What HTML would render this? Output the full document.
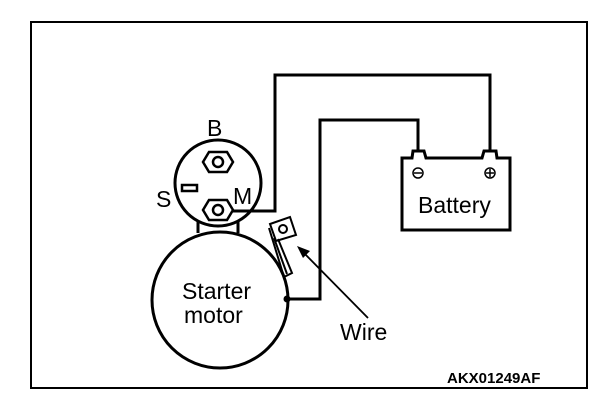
<!DOCTYPE html>
<html><head><style>body{margin:0;background:#fff}</style></head><body>
<svg width="608" height="402" xmlns="http://www.w3.org/2000/svg" font-family="Liberation Sans, sans-serif">
<rect x="0" y="0" width="608" height="402" fill="#fff"/>
<rect x="31" y="22" width="556" height="366" fill="none" stroke="#000" stroke-width="2"/>
<g fill="none" stroke="#000" stroke-width="3">
<path d="M198 233 L198 220 M238 233 L238 220"/>
<circle cx="218" cy="183" r="43" fill="#fff"/>
<path d="M152 300 A68 68 0 1 1 288 300 A68 68 0 1 1 152 300 Z" fill="#fff"/>
<path d="M228 211 L275 211 L275 75 L490 75 L490 150"/>
<path d="M288 299 L320 299 L320 120 L418 120 L418 150"/>
<path d="M402 230 L402 158 L412 158 L413 151 L424 151 L426 158 L482 158 L484 151 L496 151 L497 158 L510 158 L510 230 Z"/>
</g>
<g stroke="#000" stroke-width="2.5" fill="#fff">
<polygon points="209,152 227,152 233,162 227,172 209,172 203,162"/>
<polygon points="209,200 227,200 233,210 227,220 209,220 203,210"/>
</g>
<circle cx="218" cy="162" r="5" fill="none" stroke="#000" stroke-width="2.5"/>
<circle cx="218" cy="210" r="5" fill="none" stroke="#000" stroke-width="2.5"/>
<rect x="182" y="185" width="15" height="6" fill="none" stroke="#000" stroke-width="2.5"/>
<g stroke="#000" stroke-width="2" fill="none">
<polygon points="270,224 290,217 296,235 276,241"/>
<circle cx="283" cy="229" r="4"/>
<path d="M269,228 L284,277 L292,273 L278,239"/>
<path d="M274,238 L287,274"/>
</g>
<circle cx="287" cy="299" r="3.5" fill="#000"/>
<line x1="368" y1="318" x2="302" y2="251" stroke="#000" stroke-width="1.8"/>
<polygon points="297,246 310,251 303,258" fill="#000"/>
<g font-size="23" fill="#000">
<text x="207" y="136">B</text>
<text x="156" y="207">S</text>
<text x="233" y="204">M</text>
<text x="182" y="299">Starter</text>
<text x="184" y="323">motor</text>
<text x="340" y="340">Wire</text>
<text x="418" y="213">Battery</text>
</g>
<g stroke="#000" stroke-width="1.5" fill="none">
<circle cx="418" cy="173" r="5"/><line x1="414" y1="173" x2="422" y2="173"/>
<circle cx="490" cy="173" r="5"/><line x1="486" y1="173" x2="494" y2="173"/><line x1="490" y1="169" x2="490" y2="177"/>
</g>
<text x="447" y="383" font-size="15" font-weight="bold">AKX01249AF</text>
</svg>
</body></html>
